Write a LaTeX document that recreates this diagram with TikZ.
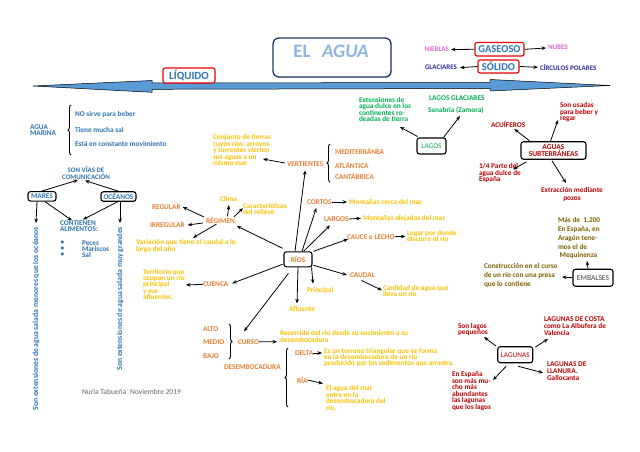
\documentclass[tikz,border=0pt]{standalone}
\usepackage{fontspec}
\setmainfont{Carlito}
\usetikzlibrary{arrows.meta,calc,decorations.pathreplacing,shadows}
\lineskiplimit=-20pt
\lineskip=0pt
\definecolor{cblue}{RGB}{46,117,182}
\definecolor{cdblue}{RGB}{45,45,160}
\definecolor{cpink}{RGB}{225,100,215}
\definecolor{corange}{RGB}{237,125,49}
\definecolor{cyellow}{RGB}{255,192,0}
\definecolor{cgreen}{RGB}{0,176,80}
\definecolor{cdred}{RGB}{192,0,0}
\definecolor{cbrown}{RGB}{127,96,0}
\definecolor{cred}{RGB}{230,0,0}
\definecolor{cnavy}{RGB}{31,56,100}
\definecolor{carrow}{RGB}{91,155,213}
\definecolor{ctitle}{RGB}{140,182,224}
\definecolor{cgray}{RGB}{100,100,100}
\definecolor{cdgray}{RGB}{64,64,64}
\tikzset{
  tx/.style={font=\fontsize{7.3}{6.5}\selectfont\bfseries, align=left, inner sep=0pt, outer sep=0pt},
  tB/.style={tx, text=cblue},
  tO/.style={tx, text=corange},
  tY/.style={tx, text=cyellow},
  tG/.style={tx, text=cgreen},
  tR/.style={tx, text=cdred},
  tN/.style={tx, text=cbrown},
  tK/.style={tx, text=cpink, font=\fontsize{7}{7}\selectfont\bfseries},
  tD/.style={tx, text=cdblue, font=\fontsize{7}{7}\selectfont\bfseries},
  box/.style={draw=black, line width=1.1pt, rounded corners=2.5pt, fill=white, inner sep=0pt, align=center, font=\fontsize{7.3}{6.5}\selectfont\bfseries},
  rbox/.style={draw=cred, line width=1.1pt, rounded corners=2pt, fill=white, inner sep=0pt, text=cblue, font=\fontsize{10.5}{11}\selectfont\bfseries},
  arr/.style={draw=black, line width=0.8pt, -{Stealth[length=4.5pt,width=3.6pt]}},
  brc/.style={draw=black, line width=0.9pt, decorate, decoration={brace, amplitude=3pt}}
}
\begin{document}
\begin{tikzpicture}[x=1pt,y=-1pt]
\useasboundingbox (0,0) rectangle (640,452);
\fill[white] (0,0) rectangle (640,452);

% title
\node[draw=cnavy, line width=1.3pt, rounded corners=6pt, minimum width=118pt, minimum height=39pt, fill=white, drop shadow={opacity=0.25, shadow xshift=1.2pt, shadow yshift=-1.2pt}] (tbox) at (332,57.5) {};
\node[inner sep=0pt, font=\fontsize{19}{20}\selectfont\bfseries, text=ctitle] (title) at (331,51) {EL\hspace{0.6em}\textit{AGUA}};

% big double arrow
\filldraw[fill=carrow, draw=black, line width=0.5pt] (33,86) -- (152,80.5) -- (152,83) -- (490,82.5) -- (490,79.5) -- (610,85.5) -- (490,91) -- (490,88.5) -- (152,89.3) -- (152,92.3) -- cycle;

% states
\node[rbox, minimum width=52pt, minimum height=15pt, font=\fontsize{11}{12}\selectfont\bfseries] (liq) at (189,75.5) {LÍQUIDO};
\node[rbox, minimum width=49pt, minimum height=13.5pt] (gas) at (499.5,49.3) {GASEOSO};
\node[rbox, minimum width=41pt, minimum height=13pt] (sol) at (498.5,66.5) {SÓLIDO};
\node[tK, anchor=east] (nieb) at (449,49.5) {NIEBLAS};
\node[tK, anchor=west] (nub) at (548,47) {NUBES};
\node[tD, anchor=east] (glac) at (457,67.7) {GLACIARES};
\node[tD, anchor=west] (circ) at (540,67.3) {CÍRCULOS POLARES};
\draw[arr] (gas.west) -- ($(nieb.east)+(2,0)$);
\draw[arr] (gas.east) -- ($(nub.west)+(-2,1)$);
\draw[arr] (sol.west) -- ($(glac.east)+(3,0)$);
\draw[arr] (sol.east) -- ($(circ.west)+(-2,0)$);

% agua marina
\node[tB, anchor=west] (am) at (30,130) {AGUA\\MARINA};
\draw[brc] (71,155) -- (71,105);
\node[tB, anchor=west] (n1) at (75,114.3) {NO sirve para beber};
\node[tB, anchor=west] (n2) at (75,130) {Tiene mucha sal};
\node[tB, anchor=west] (n3) at (75,144) {Está en constante movimiento};

% mares / oceanos
\node[tB, align=center, font=\fontsize{6.9}{6.3}\selectfont\bfseries] (vias) at (86,173) {SON VÍAS DE\\COMUNICACIÓN};
\node[box, text=cblue, minimum width=28pt, minimum height=9.5pt] (mares) at (42,196.3) {MARES};
\node[box, text=cblue, minimum width=35pt, minimum height=9.5pt] (oce) at (118.5,196.5) {OCÉANOS};
\node[tB, anchor=north west, font=\fontsize{7.3}{6.2}\selectfont\bfseries] (cont) at (60,220.5) {CONTIENEN\\ALIMENTOS:};
\node[tB, anchor=north west, font=\fontsize{7.3}{6}\selectfont\bfseries] (bul) at (60.5,240.8) {\textbullet\\\textbullet\\\textbullet};
\node[tB, anchor=north west, font=\fontsize{7.3}{6}\selectfont\bfseries] (items) at (82,240.8) {Peces\\Mariscos\\Sal};
\node[tB, rotate=90, anchor=east, font=\fontsize{7.7}{8}\selectfont\bfseries] (vm) at (36,227) {Son extensiones de agua salada menores que los océanos};
\node[tB, rotate=90, anchor=east, font=\fontsize{7.7}{8}\selectfont\bfseries] (vo) at (120,227) {Son extensiones de agua salada muy grandes};
\node[tx, anchor=west, font=\fontsize{7.5}{7.5}\selectfont, text=cgray] (sig) at (82,392) {Nuria Tabueña\hspace{4pt}Noviembre 2019};
\draw[arr] (mares.north) -- ($(vias.south)+(-8,1)$);
\draw[arr] (oce.north) -- ($(vias.south)+(-1,1.5)$);
\draw[arr] ($(mares.south)+(-5,0)$) -- ($(vm.east)+(0,-4)$);
\draw[arr] ($(mares.south)+(3,0)$) -- ($(cont.north west)+(12,0)$);
\draw[arr] ($(oce.south)+(-1,0)$) -- ($(cont.north west)+(23,-1)$);
\draw[arr] ($(oce.south)+(1.5,0)$) -- ($(vo.east)+(0,-4)$);

% regimen
\node[tO, anchor=west] (reg) at (152,207) {REGULAR};
\node[tO, anchor=west] (irr) at (150,225) {IRREGULAR};
\node[tO, anchor=west] (regim) at (206,220) {RÉGIMEN};
\node[tY, anchor=west] (clima) at (220,199) {Clima};
\node[tY, anchor=north west, font=\fontsize{7.3}{6.1}\selectfont\bfseries] (carac) at (243,203.5) {Características\\del relieve};
\node[tY, anchor=north west, font=\fontsize{7.3}{6.2}\selectfont\bfseries] (varia) at (136,239.8) {Variación que tiene el caudal a lo\\largo del año};
\draw[arr] ($(regim.west)+(-2,-3)$) -- ($(reg.east)+(2,0)$);
\draw[arr] ($(regim.west)+(-3,3)$) -- ($(irr.east)+(3,0)$);
\draw[arr] ($(regim.south)+(-4,1)$) -- ($(varia.north west)+(57,-2)$);
\draw[arr] ($(regim.north)+(7,-0.5)$) -- ($(clima.south)+(0.5,3.5)$);
\draw[arr] ($(regim.north east)+(-1,0)$) -- ($(carac.west)+(0,-1)$);

% vertientes
\node[tY, anchor=north west] (conj) at (213,134.4) {Conjunto de tierras\\cuyos ríos, arroyos\\y torrentes vierten\\sus aguas a un\\mismo mar};
\node[tO, anchor=west] (vert) at (287,164) {VERTIENTES};
\draw[arr] ($(vert.west)+(-2,-1)$) -- ($(conj.north west)+(50,24.6)$);
\draw[brc] (330,182) -- (330,144);
\node[tO, anchor=west] (medi) at (335,151.7) {MEDITERRÁNEA};
\node[tO, anchor=west] (atla) at (335,165) {ATLÁNTICA};
\node[tO, anchor=west] (cant) at (335,176.7) {CANTÁBRICA};

% rios
\node[box, text=corange, minimum width=28pt, minimum height=15pt] (rios) at (298,259.3) {RÍOS};
\node[tO, anchor=west] (cortos) at (307,202) {CORTOS};
\node[tY, anchor=west] (mcerca) at (349,202) {Montañas cerca del mar};
\node[tO, anchor=west] (largos) at (324,219) {LARGOS};
\node[tY, anchor=west] (malej) at (363,218.3) {Montañas alejadas del mar};
\node[tO, anchor=west] (cauce) at (347,236.7) {CAUCE o LECHO};
\node[tY, anchor=north west, font=\fontsize{7.3}{6}\selectfont\bfseries] (lugar) at (407,230.8) {Lugar por donde\\discurre el río};
\node[tO, anchor=west] (caudal) at (350,275) {CAUDAL};
\node[tY, anchor=north west, font=\fontsize{7.3}{6.4}\selectfont\bfseries] (canti) at (383,285.3) {Cantidad de agua que\\lleva un río};
\node[tY, anchor=west] (princ) at (307,290.7) {Principal};
\node[tY, anchor=west] (aflu) at (289,309) {Afluente};
\node[tO, anchor=west] (cuenca) at (203,284.3) {CUENCA};
\node[tY, anchor=north west, font=\fontsize{7.3}{6.35}\selectfont\bfseries] (terr) at (143,269) {Territorio que\\ocupan un río\\principal\\y sus\\afluentes.};
\node[tO, anchor=west] (curso) at (238,341.7) {CURSO};
\node[tO, anchor=west] (alto) at (203,329) {ALTO};
\node[tO, anchor=west] (medio) at (203,341.7) {MEDIO};
\node[tO, anchor=west] (bajo) at (203,356) {BAJO};
\draw[brc] (229,324) -- (229,359);
\node[tY, anchor=north west, font=\fontsize{7.3}{6.6}\selectfont\bfseries] (recor) at (280,330.8) {Recorrido del río desde su nacimiento a su\\desembocadura};
\node[tO, anchor=west] (desem) at (224,366.7) {DESEMBOCADURA};
\draw[brc] (288,407) -- (288,348);
\node[tO, anchor=west] (delta) at (295,353) {DELTA};
\node[tY, anchor=north west, font=\fontsize{7.3}{6}\selectfont\bfseries] (terreno) at (324,348.5) {Es un terreno triangular que se forma\\en la desembocadura de un río\\producido por los sedimentos que arrastra};
\node[tO, anchor=west] (ria) at (297,380) {RÍA};
\node[tY, anchor=north west] (elagua) at (326,385.5) {El agua del mar\\entra en la\\desembocadura del\\río.};

\draw[arr, shorten <=0.5pt] ($(rios.north)+(-3,0)$) -- ($(vert.south)+(0,4)$);
\draw[arr] ($(rios.north)+(4,0)$) -- ($(cortos.south)+(-3,3.6)$);
\draw[arr] ($(rios.north east)+(-9,0)$) -- ($(largos.south west)+(6,4)$);
\draw[arr] ($(rios.north east)+(1,0)$) -- ($(cauce.south west)+(1,0)$);
\draw[arr] ($(rios.east)+(1,6)$) -- ($(caudal.west)+(-3,0)$);
\draw[arr] ($(rios.south east)+(-1,0)$) -- ($(princ.north west)+(6,-4)$);
\draw[arr] (rios.south) -- ($(aflu.north)+(-5,-3)$);
\draw[arr] ($(rios.west)+(-1,5)$) -- ($(cuenca.east)+(4,-1)$);
\draw[arr] ($(rios.south west)+(5,6)$) -- ($(curso.north west)+(6,-8)$);
\draw[arr] ($(rios.north west)+(-1,-3)$) -- ($(regim.south east)+(2,3)$);
\draw[arr] (cortos.east) -- ($(mcerca.west)+(-2,0)$);
\draw[arr] (largos.east) -- ($(malej.west)+(-2,0)$);
\draw[arr] (cauce.east) -- ($(lugar.west)+(-1.5,0)$);
\draw[arr] ($(caudal.south)+(-1,3)$) -- ($(canti.north west)+(-1,5)$);
\draw[arr] (cuenca.west) -- ($(terr.north west)+(43,16)$);
\draw[arr] (curso.east) -- ($(recor.north west)+(-3,11)$);
\draw[arr] (delta.east) -- ($(terreno.north west)+(-2,4.5)$);
\draw[arr] (ria.east) -- ($(elagua.north west)+(-3,-2)$);

% lagos
\node[box, text=cgreen, font=\fontsize{7.3}{7}\selectfont, minimum width=29pt, minimum height=16pt] (lagos) at (431.5,146) {LAGOS};
\node[tG, anchor=north west] (ext) at (359,97) {Extensiones de\\agua dulce en los\\continentes ro-\\deadas de tierra};
\node[tG, anchor=west] (lg) at (429,98.3) {LAGOS GLACIARES};
\node[tG, anchor=west] (sana) at (428,110) {Sanabria (Zamora)};
\draw[arr] ($(lagos.north west)+(1,-1)$) -- ($(ext.north west)+(41,30)$);
\draw[arr] ($(lagos.north east)+(-3,0)$) -- ($(sana.west)+(32,6)$);

% aguas subterraneas
\node[box, text=cdred, minimum width=65pt, minimum height=17.5pt, font=\fontsize{7.5}{6.2}\selectfont\bfseries] (subt) at (553.5,150.5) {AGUAS\\SUBTERRÁNEAS};
\node[tR, anchor=west] (acu) at (491,124) {ACUÍFEROS};
\node[tR, anchor=north west] (usa) at (560,102.5) {Son usadas\\para beber y\\regar};
\node[tR, anchor=north west] (cuarto) at (479,163.5) {1/4 Parte del\\agua dulce de\\España};
\node[tR, anchor=north, align=center, font=\fontsize{7.3}{8.3}\selectfont\bfseries] (extr) at (572,187) {Extracción mediante\\pozos};
\draw[arr] ($(subt.north west)+(9,-0.5)$) -- ($(acu.east)+(-11,5)$);
\draw[arr] ($(subt.north)+(-3,0)$) -- ($(usa.north west)+(-2,17.5)$);
\draw[arr] ($(subt.south west)+(6,2)$) -- ($(cuarto.north west)+(34,6)$);
\draw[arr] ($(subt.south)+(-1.5,1)$) -- ($(extr.north)+(-6,-4)$);

% embalses
\node[box, text=cdgray, font=\fontsize{7.5}{7}\selectfont, minimum width=40pt, minimum height=17pt] (emb) at (593,277.7) {EMBALSES};
\node[tN, anchor=north west, font=\fontsize{7.3}{8.8}\selectfont\bfseries] (mas) at (558,217.5) {Más de\ \ 1.200\\En España, en\\Aragón tene-\\mos el de\\\ Mequinenza};
\node[tN, anchor=north west, font=\fontsize{7.3}{9.1}\selectfont\bfseries] (constr) at (484,263.5) {Construcción en el curso\\de un río con una presa\\que lo contiene};
\draw[arr] ($(emb.north)+(-5,0)$) -- ($(mas.north west)+(29,43.5)$);
\draw[arr] (emb.west) -- ($(constr.north west)+(78,13.5)$);

% lagunas
\node[box, text=cdred, font=\fontsize{7.3}{7}\selectfont, minimum width=35pt, minimum height=16pt] (lagunas) at (515.2,354.7) {LAGUNAS};
\node[tR, anchor=north west, font=\fontsize{7.3}{6}\selectfont\bfseries] (peq) at (458,323.5) {Son lagos\\pequeños};
\node[tR, anchor=north west, font=\fontsize{7.3}{6.65}\selectfont\bfseries] (costa) at (544,317) {LAGUNAS DE COSTA\\como La Albufera de\\Valencia};
\node[tR, anchor=north west, font=\fontsize{7.3}{7}\selectfont\bfseries] (llan) at (547,361.3) {LAGUNAS DE\\LLANURA.\\Gallocanta};
\node[tR, anchor=north west] (espa) at (452,372) {En España\\son más mu-\\cho más\\abundantes\\las lagunas\\que los lagos};
\draw[arr] ($(lagunas.north west)+(-1,0)$) -- ($(peq.north west)+(26,13.5)$);
\draw[arr] ($(lagunas.north east)+(2,1)$) -- ($(costa.north west)+(4,22)$);
\draw[arr] ($(lagunas.south)+(3,3)$) -- ($(llan.north west)+(-4,11.5)$);
\draw[arr] ($(lagunas.south)+(-9,3)$) -- ($(espa.north west)+(41,8)$);
\end{tikzpicture}
\end{document}
